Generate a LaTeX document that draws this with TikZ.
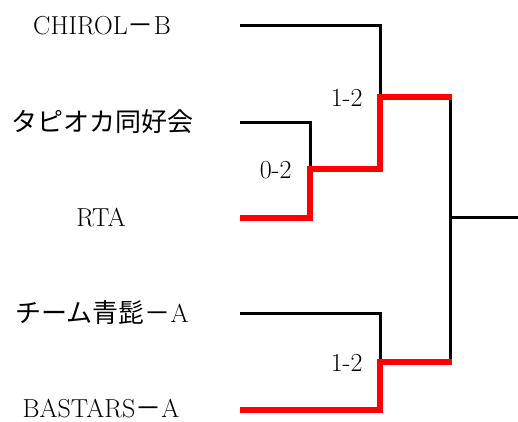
\documentclass[tikz,border=0pt]{standalone}
\usepackage{fontspec}
\newfontfamily\jp{Noto Sans CJK JP}
\begin{document}
\begin{tikzpicture}[x=1pt,y=-1pt,
  team/.style={anchor=base,font=\fontsize{26}{30}\selectfont},
  score/.style={anchor=base east,font=\fontsize{26}{30}\selectfont},
  lose/.style={line width=3pt},
  win/.style={red,line width=6.7pt}]
\useasboundingbox (0,0) rectangle (518,421);
% teams
\node[team] (chirol) at (102,34) {CHIROL{\jp －}B};
\node[team] (tapioca) at (102,131) {\jp タピオカ同好会};
\node[team] (rta) at (101,226) {RTA};
\node[team] (aohige) at (102,322) {{\jp チーム青髭－}A};
\node[team] (bastars) at (101,417) {BASTARS{\jp －}A};
% bracket points
\coordinate (c1) at (240,25);
\coordinate (c2) at (240,122);
\coordinate (c3) at (240,218);
\coordinate (c4) at (240,313);
\coordinate (c5) at (240,410);
\coordinate (m1) at (310,169);
\coordinate (m2) at (380,97);
\coordinate (m3) at (380,362);
\coordinate (f) at (450,217);
\coordinate (out) at (518,217);
\draw[lose] (c1)-|(m2);
\draw[lose] (c2)-|(m1);
\draw[lose] (c4)-|(m3);
\draw[lose] (m2-|f)--(m3-|f);
\draw[lose] (f)--(out);
\draw[win] (c3)-|(m1)-|(m2)--([xshift=1.5pt]m2-|f);
\draw[win] (c5)-|(m3)--([xshift=1.5pt]m3-|f);
% scores
\node[score] (s1) at (366,106) {1-2};
\node[score] (s2) at (295,178) {0-2};
\node[score] (s3) at (366,371) {1-2};
\end{tikzpicture}
\end{document}
